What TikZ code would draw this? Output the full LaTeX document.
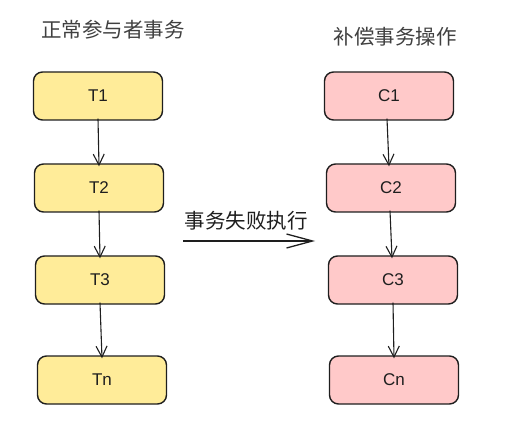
\documentclass[tikz,border=0pt]{standalone}
\usepackage{fontspec}
\setmainfont{Liberation Sans}
\newfontfamily\cjk{Noto Sans CJK SC}
\usetikzlibrary{arrows.meta}
\definecolor{tyellow}{HTML}{FFEC99}
\definecolor{cpink}{HTML}{FFC9C9}
\definecolor{inkc}{HTML}{1E1E1E}
\begin{document}
\begin{tikzpicture}[x=1pt,y=-1pt,
  boxbase/.style={draw=inkc, line width=1.4pt, rounded corners=9pt, minimum width=129pt, minimum height=48pt, inner sep=0pt, font=\fontsize{17}{20}\selectfont, text=inkc},
  tbox/.style={boxbase, fill=tyellow},
  cbox/.style={boxbase, fill=cpink},
  conn/.style={draw=inkc, line width=1.1pt, -{Straight Barb[length=11pt,width=11pt]}},
  title/.style={font=\cjk\fontsize{20.5}{24}\selectfont, text=inkc!85}]
\useasboundingbox (0,0) rectangle (511,438);
\node[title] (tl) at (113,30) {正常参与者事务};
\node[title] (tr) at (395,37) {补偿事务操作};
\node[tbox] (t1) at (98,96) {T1};
\node[tbox] (t2) at (99,188) {T2};
\node[tbox] (t3) at (100,280) {T3};
\node[tbox] (tn) at (102,380) {Tn};
\node[cbox] (c1) at (389,96) {C1};
\node[cbox] (c2) at (391,188) {C2};
\node[cbox] (c3) at (393,280) {C3};
\node[cbox] (cn) at (394,380) {Cn};
\draw[conn] ([yshift=2pt]t1.south) -- ([yshift=-3pt]t2.north);
\draw[conn] ([yshift=2pt]t2.south) -- ([yshift=-3pt]t3.north);
\draw[conn] ([yshift=2pt]t3.south) -- ([yshift=-3pt]tn.north);
\draw[conn] ([xshift=-2pt,yshift=2pt]c1.south) -- ([xshift=-2pt,yshift=-3pt]c2.north);
\draw[conn] ([xshift=-1pt,yshift=2pt]c2.south) -- ([xshift=-1pt,yshift=-3pt]c3.north);
\draw[conn] ([yshift=2pt]c3.south) -- ([yshift=-3pt]cn.north);
\coordinate (fs) at (183,241);
\coordinate (fe) at (315,241);
\draw[draw=inkc, line width=1.3pt, -{Straight Barb[length=26pt,width=14pt]}] (fs) -- (fe);
\node[font=\cjk\fontsize{20.5}{24}\selectfont, text=inkc, anchor=west] (fl) at (181,221) {事务失败执行};
\end{tikzpicture}
\end{document}
